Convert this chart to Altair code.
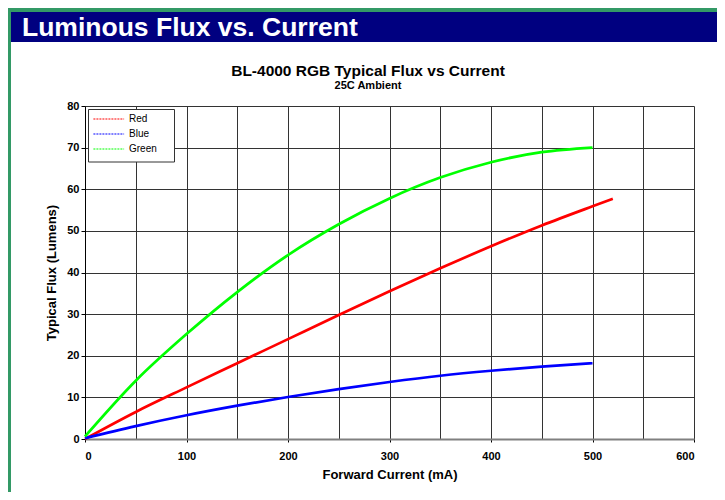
import altair as alt
import pandas as pd

# ---- data ----
current_red = [0, 50, 100, 150, 200, 250, 300, 350, 400, 450, 500, 520]
red_flux = [0.0, 6.5, 12.4, 18.2, 24.0, 29.8, 35.5, 41.0, 46.3, 51.3, 55.9, 57.7]

current_gb = [0, 50, 100, 150, 200, 250, 300, 350, 400, 450, 500]
blue_flux = [0.2, 3.1, 5.7, 8.0, 10.1, 12.0, 13.7, 15.2, 16.4, 17.4, 18.2]
green_flux = [0.6, 14.0, 25.2, 35.3, 44.2, 51.6, 57.8, 62.8, 66.5, 68.9, 70.0]

series_names = ["Red", "Blue", "Green"]
series_colors = ["#FF0000", "#0000FF", "#00FF00"]

x_grid_values = list(range(0, 601, 50))
y_tick_values = list(range(0, 81, 10))

header_text = "Luminous Flux vs. Current"
chart_title = "BL-4000 RGB Typical Flux vs Current"
chart_subtitle = "25C Ambient"

rows = []
for c, v in zip(current_red, red_flux):
    rows.append({"current": c, "flux": v, "series": "Red"})
for c, v in zip(current_gb, blue_flux):
    rows.append({"current": c, "flux": v, "series": "Blue"})
for c, v in zip(current_gb, green_flux):
    rows.append({"current": c, "flux": v, "series": "Green"})
df = pd.DataFrame(rows)

FONT = "Liberation Sans"

lines = alt.Chart(df).mark_line(strokeWidth=2.7, interpolate="monotone").encode(
    x=alt.X(
        "current:Q",
        scale=alt.Scale(domain=[0, 600], nice=False),
        axis=alt.Axis(
            title="Forward Current (mA)",
            values=x_grid_values,
            labelExpr="datum.value % 100 === 0 ? datum.label : ''",
            tickColor={"condition": {"test": "datum.value % 100 !== 0", "value": "transparent"}, "value": "black"},
            tickSize=3,
            labelPadding=8,
            labelFont=FONT, labelFontSize=11, labelFontWeight="bold", labelColor="black",
            titleFont=FONT, titleFontSize=13, titleFontWeight="bold", titleColor="black",
            titlePadding=7,
            domainColor="#808080", domainWidth=2,
            gridColor="#333333", gridWidth=1, gridOpacity=1,
        ),
    ),
    y=alt.Y(
        "flux:Q",
        scale=alt.Scale(domain=[0, 80], nice=False),
        axis=alt.Axis(
            title="Typical Flux (Lumens)",
            values=y_tick_values,
            tickSize=4, tickColor="black",
            labelPadding=2,
            labelFont=FONT, labelFontSize=11, labelFontWeight="bold", labelColor="black",
            titleFont=FONT, titleFontSize=13, titleFontWeight="bold", titleColor="black",
            titlePadding=8,
            domainColor="black", domainWidth=1,
            gridColor="#333333", gridWidth=1, gridOpacity=1,
        ),
    ),
    color=alt.Color(
        "series:N",
        scale=alt.Scale(domain=series_names, range=series_colors),
        sort=series_names,
        legend=alt.Legend(
            title=None,
            orient="none", legendX=3, legendY=3,
            fillColor="transparent", strokeColor="transparent", padding=5,
            symbolType="M-2.3,0H13.05", symbolSize=16, symbolStrokeWidth=1.2,
            symbolDash=[2, 1],
            labelFont=FONT, labelFontSize=10, labelColor="black",
            labelOffset=26, rowPadding=5,
        ),
    ),
)

deco = pd.DataFrame({"t": [header_text]})

# legend frame (white box behind the legend entries)
legend_box = alt.Chart(deco).mark_rect(fill="white", stroke="#333333", strokeWidth=1).encode(
    x=alt.value(3.5), x2=alt.value(89.5), y=alt.value(3.5), y2=alt.value(56)
)

green_top = alt.Chart(deco).mark_rect(color="#339966").encode(
    x=alt.value(-77), x2=alt.value(640), y=alt.value(-98), y2=alt.value(-94)
)
green_left = alt.Chart(deco).mark_rect(color="#339966").encode(
    x=alt.value(-77), x2=alt.value(-74), y=alt.value(-98), y2=alt.value(400)
)
header = alt.Chart(deco).mark_rect(color="#000080").encode(
    x=alt.value(-74), x2=alt.value(640), y=alt.value(-94), y2=alt.value(-64)
)
header_label = alt.Chart(deco).mark_text(
    font=FONT, fontSize=26.5, fontWeight="bold", color="white",
    align="left", baseline="alphabetic"
).encode(x=alt.value(-63), y=alt.value(-70), text="t:N")

titles = pd.DataFrame({"t": [chart_title], "s": [chart_subtitle]})
title_mark = alt.Chart(titles).mark_text(
    font=FONT, fontSize=15.5, fontWeight="bold", color="black",
    align="center", baseline="alphabetic"
).encode(x=alt.value(283), y=alt.value(-30.5), text="t:N")
subtitle_mark = alt.Chart(titles).mark_text(
    font=FONT, fontSize=11, fontWeight="bold", color="black",
    align="center", baseline="alphabetic"
).encode(x=alt.value(283), y=alt.value(-17.5), text="s:N")

chart = alt.layer(
    green_top, green_left, header, header_label, title_mark, subtitle_mark, lines, legend_box
).properties(
    width=609,
    height=333,
    autosize=alt.AutoSizeParams(type="none"),
    padding={"left": 77, "top": 98, "right": 23, "bottom": 53},
    background="white",
).configure_view(stroke="transparent")

chart.save("out.html", embed_options={"renderer": "svg", "actions": False})
